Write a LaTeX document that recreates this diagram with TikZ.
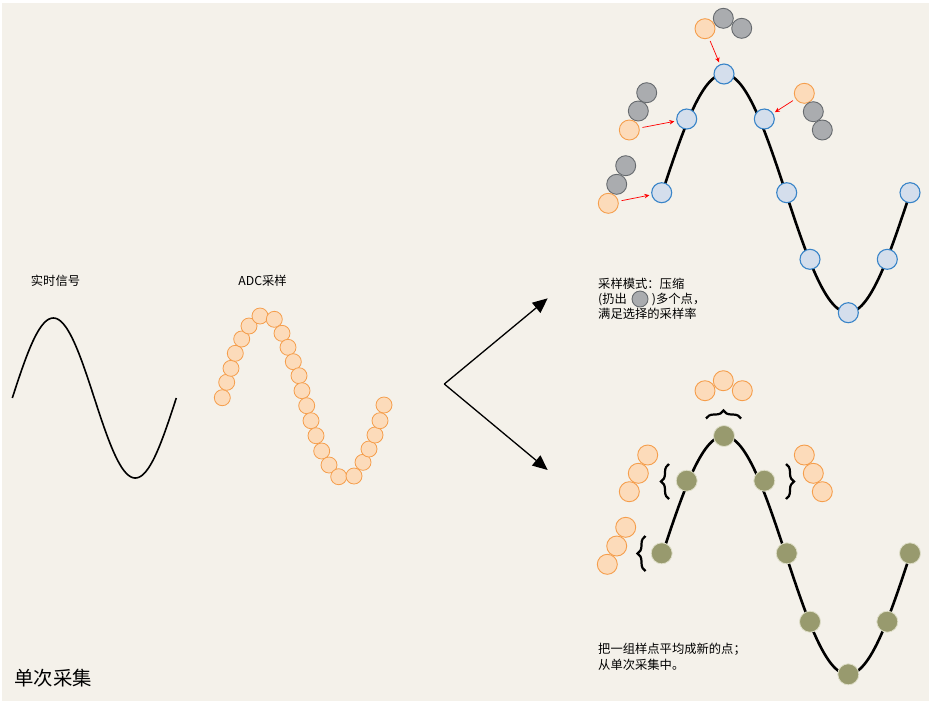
\documentclass[tikz,border=0pt]{standalone}
\usepackage{fontspec}
\setmainfont{Noto Sans CJK SC}
\usetikzlibrary{arrows.meta,decorations.pathreplacing}

\definecolor{paper}{RGB}{244,241,234}
\definecolor{peach}{RGB}{252,219,186}
\definecolor{peachline}{RGB}{245,158,76}
\definecolor{stone}{RGB}{170,172,175}
\definecolor{stoneline}{RGB}{102,106,110}
\definecolor{sky}{RGB}{212,222,236}
\definecolor{skyline}{RGB}{56,132,200}
\definecolor{olive}{RGB}{152,154,110}
\definecolor{oliveline}{RGB}{222,222,200}

\tikzset{
  adcdot/.style={circle, draw=peachline, fill=peach, line width=0.8pt, minimum size=16pt, inner sep=0pt},
  peachdot/.style={circle, draw=peachline, fill=peach, line width=0.9pt, minimum size=20pt, inner sep=0pt},
  stonedot/.style={circle, draw=stoneline, fill=stone, line width=0.9pt, minimum size=20pt, inner sep=0pt},
  skydot/.style={circle, draw=skyline, fill=sky, line width=1.1pt, minimum size=20pt, inner sep=0pt},
  olivedot/.style={circle, draw=oliveline, fill=olive, line width=0.8pt, minimum size=21pt, inner sep=0pt},
  redarrow/.style={draw=red, line width=0.7pt, -{Stealth[length=5pt,width=4.5pt]}, shorten <=3pt, shorten >=2pt},
  bigarrow/.style={line width=1.3pt, -{Triangle[length=15pt,width=13pt]}},
  wave/.style={line width=2.6pt},
  curly/.style={line width=2.2pt, decorate, decoration={brace, amplitude=8pt}},
  note/.style={align=left, anchor=west, inner sep=0pt, font=\fontsize{12.3}{14.7}\selectfont},
}

\begin{document}
\begin{tikzpicture}[x=1pt, y=-1pt]
\useasboundingbox (0,0) rectangle (936,705);
\fill[paper] (2,3) rectangle (929,701);

% realtime signal
\node[note, anchor=center] (realtime) at (55.5,281) {实时信号};
\draw[line width=1.6pt] plot[domain=0:360, samples=120] ({12.3+164*(\x/360)}, {398-80*sin(\x)});

% adc samples
\node[note, anchor=center] (adclabel) at (262.5,281) {ADC采样};
\foreach \px/\py [count=\i] in {222.3/397.7, 226.7/382.3, 231/368.3, 235.3/353.3, 241.7/339, 249/326, 260/316,
    274.3/319.3, 282/333.3, 288/347.3, 293.3/361.7, 299/375.7, 302/390.7, 306.7/405.7, 311/420.7, 316/435.7,
    321.7/451, 329/465, 338.7/476.7, 354/476, 363/462.3, 369/449, 375/435, 380/420.7, 384/405}
  \node[adcdot] (adc\i) at (\px,\py) {};

% split arrows
\coordinate (split) at (444.3,384);
\coordinate (uptip) at (547.7,298.3);
\coordinate (downtip) at (547.7,470);
\draw[bigarrow] (split) -- (uptip);
\draw[bigarrow] (split) -- (downtip);

% compress mode
\draw[wave] plot[domain=0:360, samples=120] ({662+248*(\x/360)}, {193.3-119.3*sin(\x)});
\foreach \px/\py [count=\i] in {661.7/192.7, 686.7/119, 724/74, 764.3/119, 786.7/192.7, 810/259.3, 848.3/312.7, 887.3/259.3, 910/192.7}
  \node[skydot] (b\i) at (\px,\py) {};

\node[stonedot] (t2) at (723.3,18.3) {};
\node[stonedot] (t3) at (741.7,28.3) {};
\node[peachdot] (t1) at (705,28.7) {};

\node[stonedot] (l2) at (646.7,92.7) {};
\node[stonedot] (l3) at (638.3,111) {};
\node[peachdot] (l1) at (629.3,130) {};

\node[stonedot] (m2) at (625.7,165.7) {};
\node[stonedot] (m3) at (616.7,184.3) {};
\node[peachdot] (m1) at (608.3,203.3) {};

\node[peachdot] (r1) at (804.3,93.3) {};
\node[stonedot] (r2) at (813.3,111.7) {};
\node[stonedot] (r3) at (822.3,130) {};

\draw[redarrow] (t1) -- (b3);
\draw[redarrow] (l1) -- (b2);
\draw[redarrow] (m1) -- (b1);
\draw[redarrow] (r1) -- (b4);

\node[note] (compress) at (598,299) {采样模式：压缩\\(扔出\hspace{25pt})多个点，\\满足选择的采样率};
\node[stonedot, minimum size=16pt] (dropped) at (640,299) {};

% average mode
\draw[wave] plot[domain=0:360, samples=120] ({662+248*(\x/360)}, {555.2-119.2*sin(\x)});
\foreach \px/\py [count=\i] in {661.7/553.3, 686.7/480.7, 724/436, 764.3/480.7, 786.7/553.3, 810/621.7, 848.3/674.3, 887.3/621.7, 910/553.3}
  \node[olivedot] (g\i) at (\px,\py) {};

\node[peachdot] (ta) at (705,390.7) {};
\node[peachdot] (tc) at (742.3,390.7) {};
\node[peachdot] (tb) at (723.3,380.7) {};

\node[peachdot] (la) at (647.7,455) {};
\node[peachdot] (lb) at (638.3,473.3) {};
\node[peachdot] (lc) at (629.3,491.7) {};

\node[peachdot] (ma) at (625.7,527.3) {};
\node[peachdot] (mb) at (616.7,546) {};
\node[peachdot] (mc) at (607.3,564.3) {};

\node[peachdot] (ra) at (804.3,455) {};
\node[peachdot] (rb) at (813.3,473.3) {};
\node[peachdot] (rc) at (822.3,491.7) {};

\draw[curly] (706,418.5) -- (741,418.5);
\draw[curly] (669,499) -- (669,464);
\draw[curly] (645.5,571) -- (645.5,536);
\draw[curly] (786,464) -- (786,499);

\node[note, font=\fontsize{12.3}{16.7}\selectfont] (average) at (598,656.7) {把一组样点平均成新的点；\\从单次采集中。};

\node[note, font=\fontsize{19.4}{22}\selectfont] (single) at (14,677.7) {单次采集};
\end{tikzpicture}
\end{document}
